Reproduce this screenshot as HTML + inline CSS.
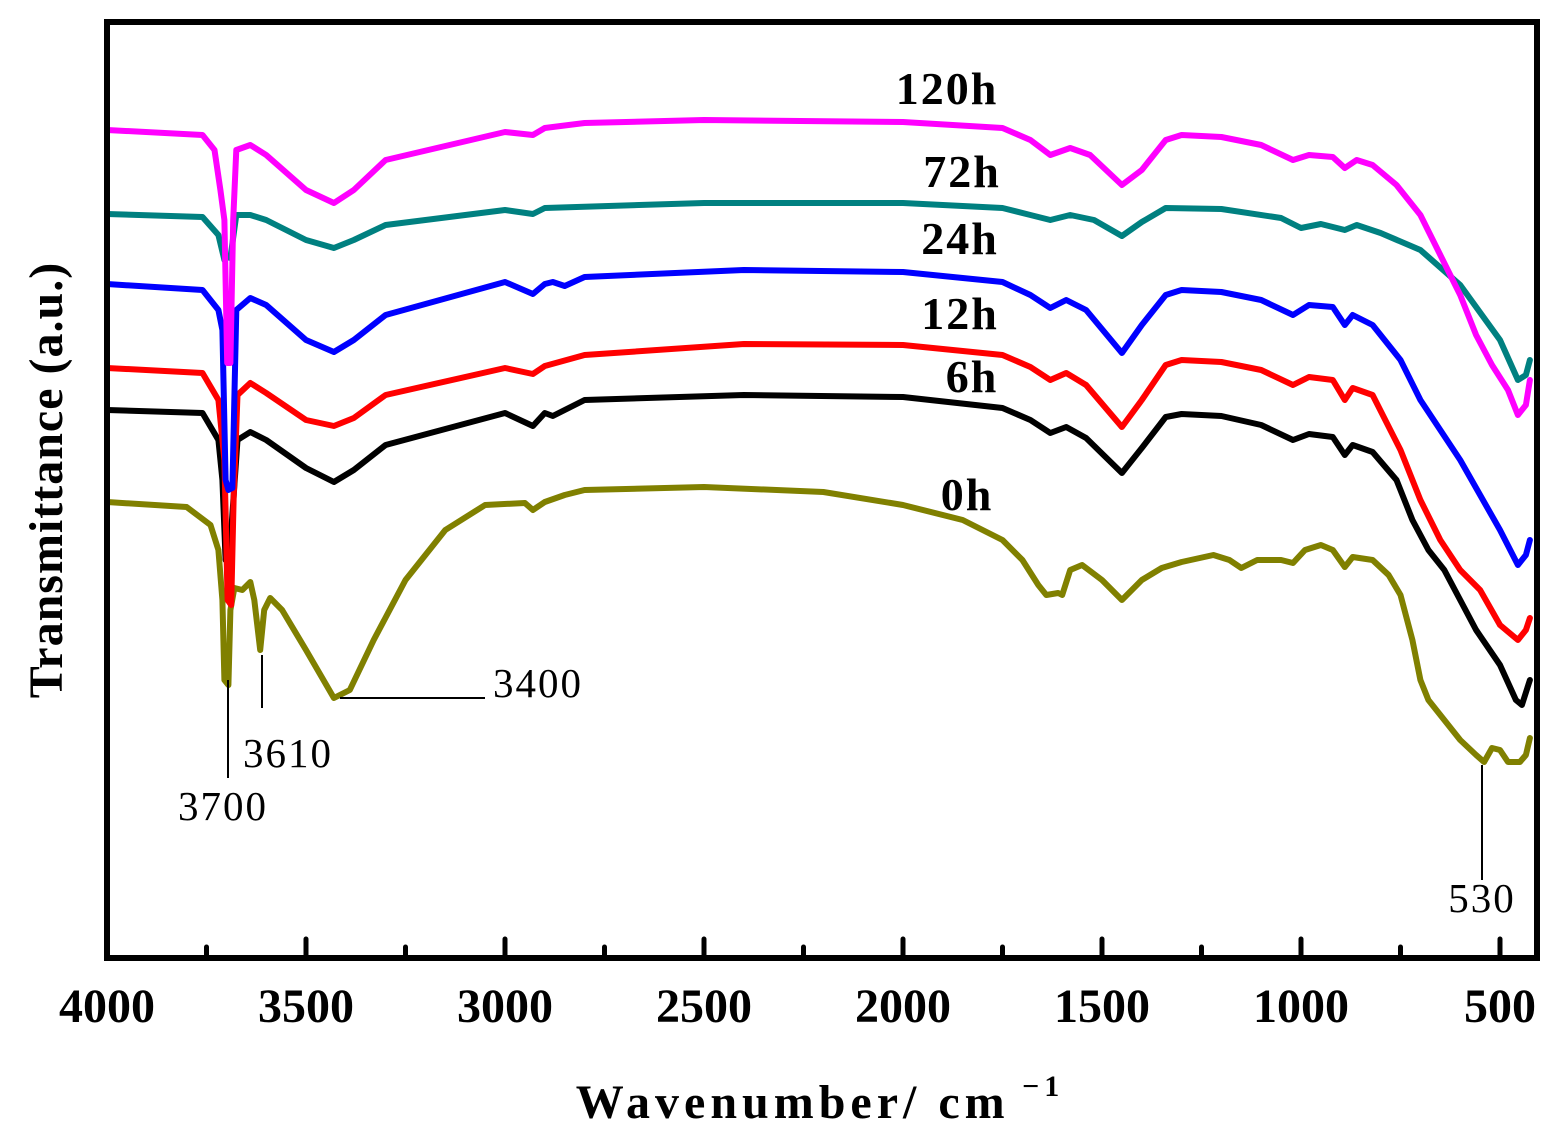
<!DOCTYPE html>
<html><head><meta charset="utf-8"><style>
html,body{margin:0;padding:0;background:#fff;}
svg{display:block;font-family:"Liberation Serif",serif;}
</style></head><body>
<svg id="s" width="1563" height="1146" viewBox="0 0 1563 1146" xmlns="http://www.w3.org/2000/svg">
<rect x="0" y="0" width="1563" height="1146" fill="#fff"/>
<g id="curves" fill="none" stroke-width="6" stroke-linejoin="round" stroke-linecap="round"></g>
<rect x="107" y="22" width="1430" height="936" fill="none" stroke="#000" stroke-width="6"/>
<g id="ticks" stroke="#000" stroke-width="5" stroke-linecap="round"></g>
<g font-weight="bold" font-size="48" text-anchor="middle" fill="#000">
<text x="107" y="1022">4000</text><text x="306" y="1022">3500</text><text x="505" y="1022">3000</text>
<text x="704" y="1022">2500</text><text x="903" y="1022">2000</text><text x="1102" y="1022">1500</text>
<text x="1301" y="1022">1000</text><text x="1500" y="1022">500</text>
</g>
<text x="820" y="1118" font-weight="bold" font-size="48" text-anchor="middle" letter-spacing="5">Wavenumber/ cm<tspan font-size="30" dy="-22"> −1</tspan></text>
<text transform="translate(62,480) rotate(-90)" font-weight="bold" font-size="48" text-anchor="middle" letter-spacing="1">Transmittance (a.u.)</text>
<g font-weight="bold" font-size="46" text-anchor="middle" letter-spacing="2">
<text x="947" y="104">120h</text><text x="962" y="187">72h</text><text x="960" y="254">24h</text>
<text x="960" y="329">12h</text><text x="972" y="392">6h</text><text x="967" y="510">0h</text>
</g>
<g stroke="#000" stroke-width="2" fill="none">
<line x1="228" y1="680" x2="228" y2="778"/><line x1="262" y1="655" x2="262" y2="708"/>
<line x1="340" y1="698" x2="485" y2="698"/><line x1="1482" y1="765" x2="1482" y2="880"/>
</g>
<g font-size="41" text-anchor="middle" letter-spacing="2">
<text x="223" y="820">3700</text><text x="288" y="767">3610</text><text x="538" y="697">3400</text><text x="1482" y="912">530</text>
</g>
</svg>
<script>
function X(w){return 107+(4000-w)*0.398;}
var data={
"#ff00ff":[[4000,130],[3760,135],[3730,150],[3715,190],[3705,220],[3698,363],[3690,363],[3683,220],[3675,150],[3640,145],[3600,155],[3500,190],[3430,203],[3380,190],[3300,160],[3000,132],[2930,135],[2900,128],[2800,123],[2500,120],[2000,122],[1750,128],[1680,140],[1630,155],[1580,148],[1530,155],[1450,185],[1400,170],[1340,140],[1300,135],[1200,137],[1100,145],[1020,160],[980,155],[920,157],[890,168],[860,160],[820,165],[760,185],[700,215],[650,255],[600,295],[560,335],[520,365],[480,390],[455,415],[435,405],[425,380]],
"#008080":[[4000,214],[3760,217],[3720,235],[3705,260],[3698,257],[3690,258],[3675,215],[3640,215],[3600,220],[3500,240],[3430,248],[3380,240],[3300,225],[3000,210],[2930,214],[2900,208],[2500,203],[2000,203],[1750,208],[1680,215],[1630,220],[1580,215],[1520,220],[1450,236],[1400,222],[1340,208],[1200,209],[1050,218],[1000,228],[950,224],[890,230],[860,225],[800,233],[700,250],[600,285],[500,340],[455,380],[435,375],[425,360]],
"#0000ff":[[4000,284],[3760,290],[3720,310],[3710,330],[3702,480],[3695,490],[3685,488],[3675,310],[3640,298],[3600,305],[3500,340],[3430,352],[3380,340],[3300,315],[3000,282],[2930,294],[2900,284],[2880,282],[2850,286],[2800,277],[2400,270],[2000,272],[1750,282],[1680,295],[1630,308],[1590,300],[1540,310],[1450,353],[1400,325],[1340,295],[1300,290],[1200,292],[1100,300],[1020,315],[980,305],[920,307],[890,325],[870,315],[820,325],[750,360],[700,400],[600,460],[500,530],[455,565],[435,555],[425,540]],
"#ff0000":[[4000,368],[3760,373],[3720,400],[3705,460],[3697,600],[3688,605],[3682,500],[3672,395],[3640,383],[3600,393],[3500,420],[3430,426],[3380,418],[3300,395],[3000,368],[2930,374],[2900,366],[2800,355],[2400,344],[2000,345],[1750,355],[1680,367],[1630,380],[1590,373],[1540,385],[1450,427],[1400,400],[1340,365],[1300,360],[1200,362],[1100,370],[1020,385],[980,377],[920,380],[890,400],[870,388],[820,395],[750,450],[700,500],[650,540],[600,570],[550,590],[500,625],[455,640],[435,630],[425,618]],
"#000000":[[4000,410],[3760,413],[3720,440],[3710,480],[3702,560],[3692,555],[3672,440],[3640,432],[3600,440],[3500,468],[3430,482],[3380,470],[3300,445],[3000,413],[2930,426],[2900,413],[2880,416],[2850,410],[2800,400],[2400,395],[2000,397],[1750,408],[1680,420],[1630,433],[1590,427],[1540,438],[1450,473],[1400,448],[1340,417],[1300,414],[1200,416],[1100,425],[1020,440],[980,434],[920,437],[890,455],[870,445],[820,452],[760,480],[720,520],[680,550],[640,570],[600,600],[560,630],[500,665],[460,700],[445,705],[425,680]],
"#808000":[[4000,888],[4000,502],[3800,507],[3740,525],[3720,550],[3710,600],[3705,680],[3695,685],[3690,610],[3680,588],[3660,590],[3640,582],[3630,600],[3615,650],[3605,610],[3590,598],[3560,610],[3500,650],[3430,698],[3390,690],[3330,640],[3250,580],[3150,530],[3050,505],[2950,503],[2930,510],[2900,502],[2850,495],[2800,490],[2500,487],[2200,492],[2000,505],[1850,520],[1750,540],[1700,560],[1660,585],[1640,595],[1610,593],[1600,595],[1580,570],[1550,565],[1500,580],[1450,600],[1400,580],[1350,568],[1300,562],[1220,555],[1180,560],[1150,568],[1110,560],[1050,560],[1020,563],[990,550],[950,545],[920,550],[890,567],[870,557],[820,560],[780,575],[750,595],[720,640],[700,680],[680,700],[640,720],[600,740],[560,755],[540,762],[520,748],[500,750],[480,762],[450,762],[435,755],[425,738]]
};
var ns="http://www.w3.org/2000/svg",g=document.getElementById("curves");
var order=["#808000","#000000","#ff0000","#0000ff","#008080","#ff00ff"];
order.forEach(function(c){var p=document.createElementNS(ns,"polyline");
p.setAttribute("points",data[c].map(function(q){return X(q[0]).toFixed(1)+","+q[1];}).join(" "));
p.setAttribute("stroke",c);g.appendChild(p);});
var t=document.getElementById("ticks");
for(var w=3750;w>=500;w-=250){var major=(w%500==0);var l=document.createElementNS(ns,"line");
var x=X(w);l.setAttribute("x1",x);l.setAttribute("x2",x);l.setAttribute("y1",955);l.setAttribute("y2",major?939:947);t.appendChild(l);}
</script>
</body></html>
